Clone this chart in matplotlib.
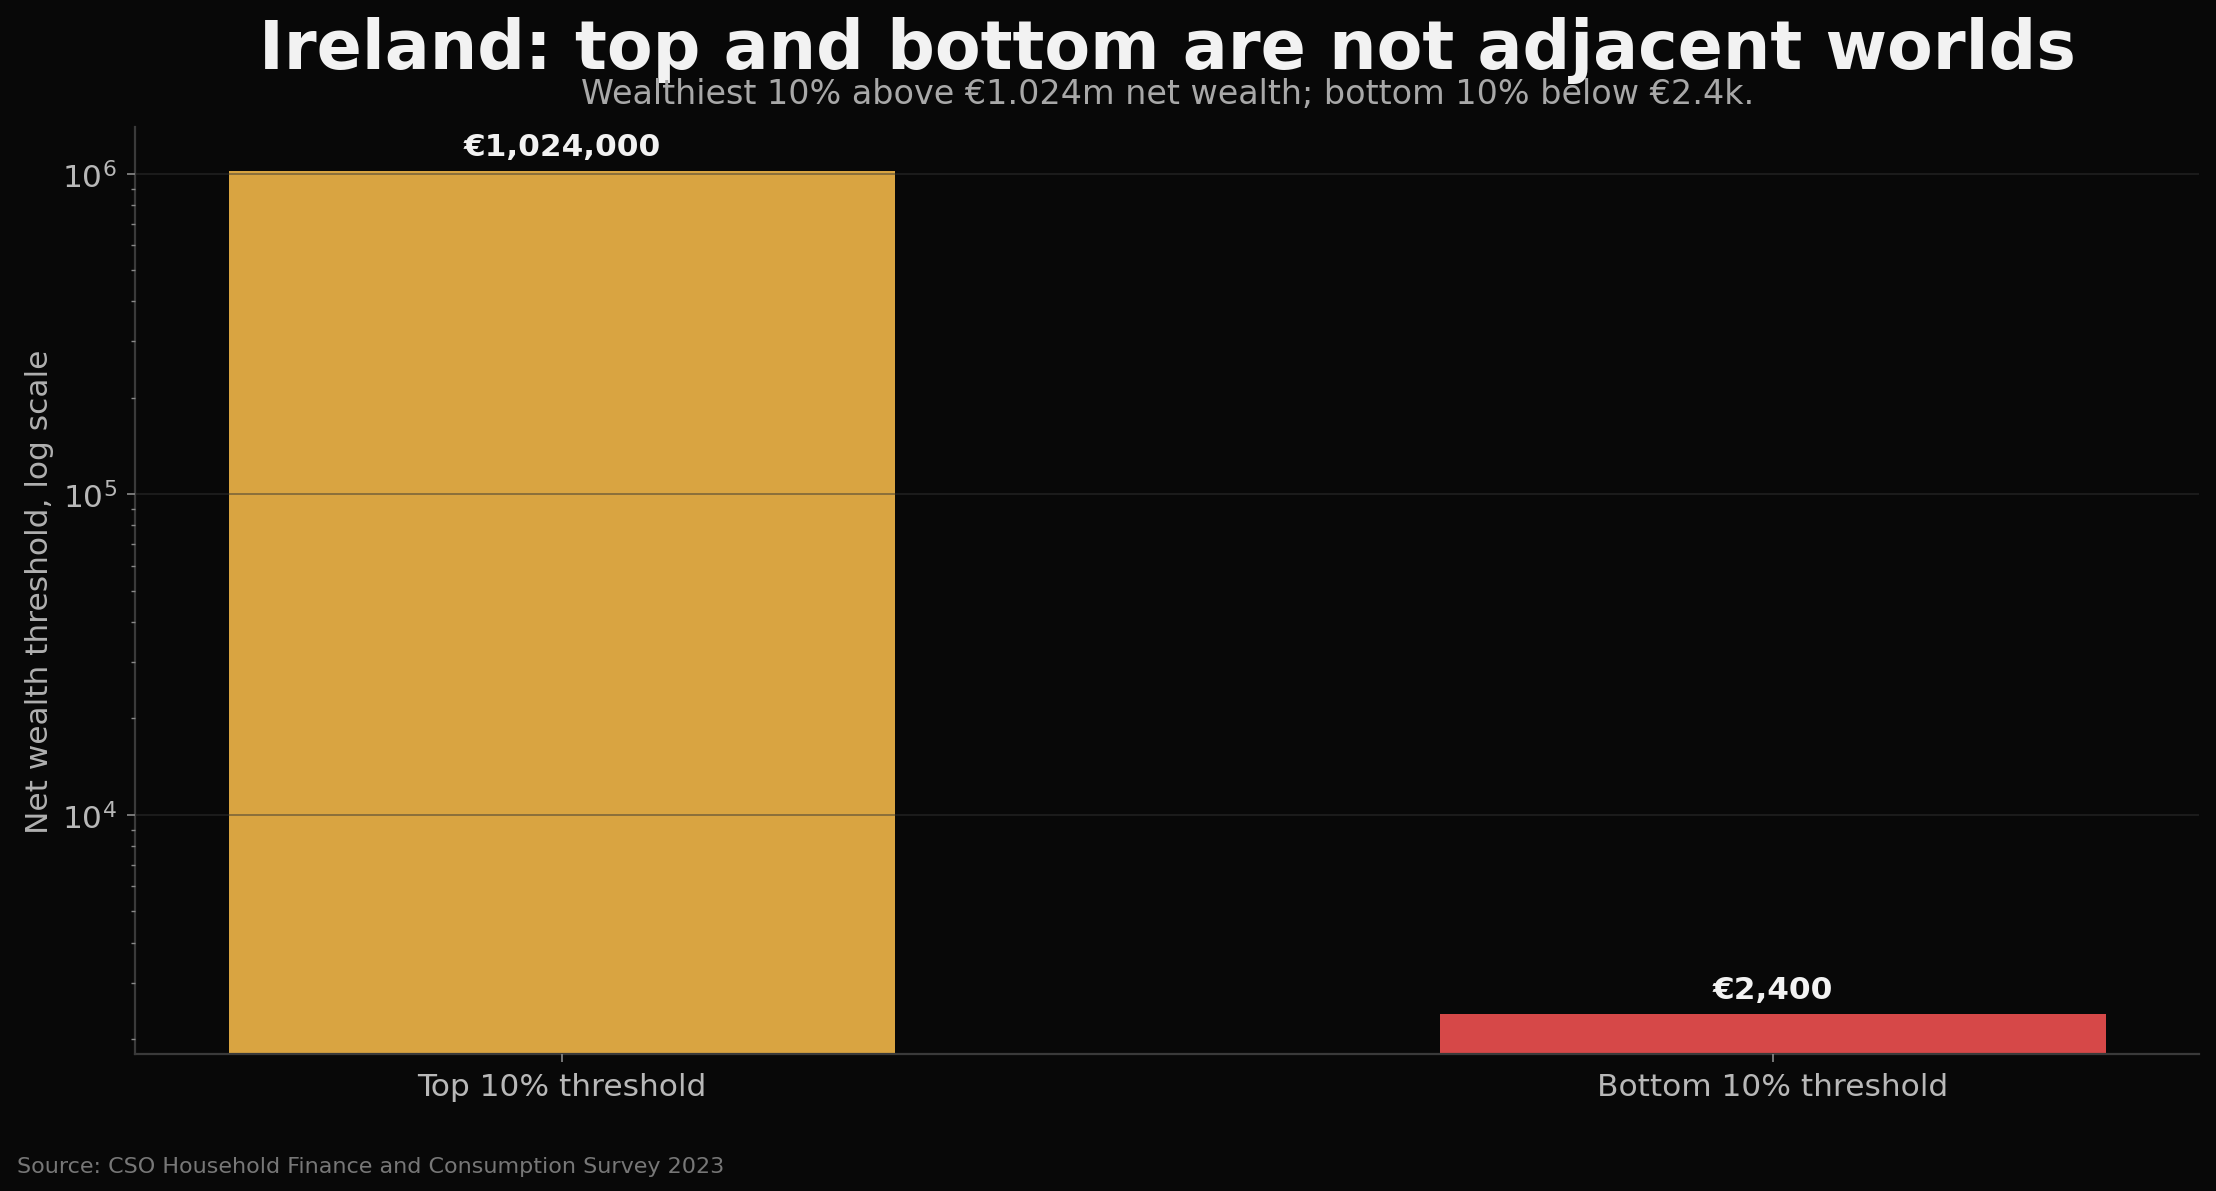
import numpy as np
import matplotlib
matplotlib.use("Agg")
import matplotlib.pyplot as plt

# datos
categorias = ["Top 10% threshold", "Bottom 10% threshold"]
umbrales = [1024000, 2400]
etiquetas = ["€1,024,000", "€2,400"]
colores = ["#D9A441", "#D64848"]

fondo = "#080808"
plt.rcParams['font.family'] = ['DejaVu Sans']

fig = plt.figure(figsize=(11.08, 5.9599), dpi=200, facecolor=fondo)
ax = fig.add_axes([0.0609, 0.1152, 0.9316, 0.7774])
ax.set_facecolor(fondo)

x = np.arange(len(categorias))
barras = ax.bar(x, umbrales, width=0.55, color=colores, zorder=1)
ax.set_yscale("log")
ax.set_ylim(1800, 1.4e6)

# etiquetas de valor
for xi, v, txt in zip(x, umbrales, etiquetas):
    ax.annotate(txt, (xi, v), xytext=(0, 3.5), textcoords="offset points",
                ha="center", va="bottom", fontsize=11.2, fontweight="bold",
                color="#f2f2f2")

ax.set_xticks(x)
ax.set_xticklabels(categorias)
ax.set_ylabel("Net wealth threshold, log scale", fontsize=11.25, color="#b0b0b0",
              labelpad=3)

ax.tick_params(axis="both", which="major", labelsize=11.25, labelcolor="#b8b8b8",
               color="#8a8a8a", length=3, width=0.6)
ax.tick_params(axis="y", which="minor", color="#8a8a8a", length=1.5, width=0.5)

ax.grid(axis="y", which="major", color="#333333", alpha=0.55, linewidth=0.6)
ax.set_axisbelow(False)

for s in ["top", "right"]:
    ax.spines[s].set_visible(False)
for s in ["left", "bottom"]:
    ax.spines[s].set_color("#3a3a3a")
    ax.spines[s].set_linewidth(0.8)

# titulos
cx = 0.0609 + 0.9316 / 2
fig.text(cx, 1 - 69 / 1192, "Ireland: top and bottom are not adjacent worlds",
         ha="center", va="baseline", fontsize=24, fontweight="bold", color="#f2f2f2")
fig.text(cx, 1 - 104 / 1192, "Wealthiest 10% above €1.024m net wealth; bottom 10% below €2.4k.",
         ha="center", va="baseline", fontsize=12, color="#a8a8a8")
fig.text(0.0075, 1 - 1173 / 1192, "Source: CSO Household Finance and Consumption Survey 2023",
         ha="left", va="baseline", fontsize=8, color="#777777")

fig.savefig("out.png", dpi=200, facecolor=fondo)
